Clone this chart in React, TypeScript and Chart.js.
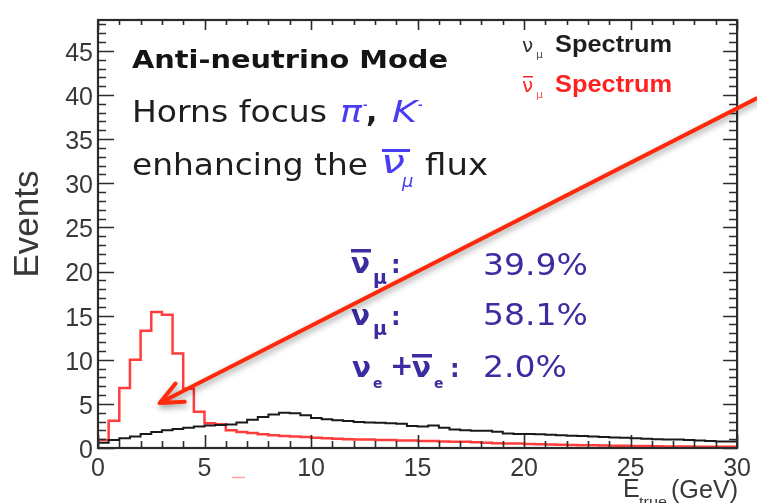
import React, { useEffect, useRef } from "react";
import { Chart, registerables } from "chart.js";

Chart.register(...registerables);

// Energy binning (GeV)
const BIN_WIDTH = 0.5;
const E_MAX = 30;

// Events per 0.5 GeV bin, 0–30 GeV
const NUMU_EVENTS = [
  0.2, 0.6, 0.9, 1.1, 1.3, 1.6, 1.8, 2.0, 2.15, 2.3,
  2.45, 2.55, 2.6, 2.65, 2.9, 3.2, 3.5, 3.8, 4.0, 3.95,
  3.7, 3.4, 3.25, 3.15, 3.05, 2.95, 2.9, 2.85, 2.8, 2.75,
  2.5, 2.45, 2.55, 2.3, 2.1, 2.0, 1.95, 1.95, 1.85, 1.65,
  1.6, 1.6, 1.55, 1.5, 1.45, 1.4, 1.35, 1.3, 1.25, 1.2,
  1.15, 1.1, 1.05, 1.0, 0.95, 0.95, 0.9, 0.85, 0.8, 0.75,
];

const NUMUBAR_EVENTS = [
  0, 0.9, 3.1, 6.8, 10.0, 13.3, 15.4, 15.1, 10.7, 6.7,
  4.1, 2.8, 2.7, 2.0, 1.8, 1.7, 1.55, 1.45, 1.35, 1.3,
  1.25, 1.15, 1.1, 1.05, 1.0, 0.95, 0.95, 0.9, 0.9, 0.85,
  0.85, 0.8, 0.78, 0.75, 0.72, 0.7, 0.65, 0.6, 0.55, 0.52,
  0.5, 0.45, 0.42, 0.4, 0.37, 0.35, 0.32, 0.3, 0.28, 0.26,
  0.25, 0.23, 0.22, 0.2, 0.18, 0.17, 0.16, 0.15, 0.14, 0.13,
];

const X_TICKS = [0, 5, 10, 15, 20, 25, 30];
const Y_TICKS = [0, 5, 10, 15, 20, 25, 30, 35, 40, 45];
const Y_MAX = 48.5;

const FRACTION_NUMUBAR = "39.9%";
const FRACTION_NUMU = "58.1%";
const FRACTION_NUE = "2.0%";

// Arrow pointing at the anti-neutrino peak, in axis units
const ARROW_FROM = { x: 30.9, y: 39.6 };
const ARROW_TO = { x: 2.9, y: 5.1 };

const SANS = '"Liberation Sans", Arial, sans-serif';
const GEO = '"DejaVu Sans", sans-serif';
const GREEK = '"DejaVu Sans", sans-serif';
const AXIS_TEXT = "#383838";
const BRIGHT_BLUE = "#4a3cf2";
const BLOCK_BLUE = "#3b2da0";

function histPoints(values: number[]) {
  const pts = values.map((v, i) => ({ x: i * BIN_WIDTH, y: v }));
  pts.push({ x: E_MAX, y: values[values.length - 1] });
  return pts;
}

function txt(
  ctx: CanvasRenderingContext2D,
  s: string,
  x: number,
  y: number,
  font: string,
  color: string,
  width?: number
) {
  ctx.save();
  ctx.font = font;
  ctx.fillStyle = color;
  ctx.textAlign = "left";
  ctx.textBaseline = "alphabetic";
  const w = ctx.measureText(s).width;
  const sx = width ? width / w : 1;
  ctx.translate(x, y);
  ctx.scale(sx, 1);
  ctx.fillText(s, 0, 0);
  ctx.restore();
}

function bar(ctx: CanvasRenderingContext2D, x: number, y: number, w: number, h: number, color: string) {
  ctx.save();
  ctx.fillStyle = color;
  ctx.fillRect(x, y, w, h);
  ctx.restore();
}

const frameAndLabels = {
  id: "frameAndLabels",
  afterDatasetsDraw(chart: any) {
    const { ctx, chartArea: a } = chart;
    const xs = chart.scales.x;
    const ys = chart.scales.y;
    ctx.save();
    ctx.strokeStyle = "#2b2b2b";
    ctx.lineWidth = 1.6;
    ctx.beginPath();
    for (let v = 0; v <= E_MAX; v += 1) {
      const px = Math.round(xs.getPixelForValue(v)) + 0.5;
      const major = v % 5 === 0;
      ctx.moveTo(px, a.bottom);
      ctx.lineTo(px, a.bottom - (major ? 13 : 7));
      ctx.moveTo(px, a.top);
      ctx.lineTo(px, a.top + (major ? 10 : 5));
    }
    for (let v = 0; v <= Math.floor(Y_MAX); v += 1) {
      const py = Math.round(ys.getPixelForValue(v)) + 0.5;
      const major = v % 5 === 0;
      ctx.moveTo(a.left, py);
      ctx.lineTo(a.left + (major ? 16 : 8), py);
      ctx.moveTo(a.right, py);
      ctx.lineTo(a.right - (major ? 14 : 8), py);
    }
    ctx.stroke();
    ctx.lineWidth = 2.2;
    ctx.strokeRect(a.left, a.top, a.right - a.left, a.bottom - a.top);
    ctx.restore();
  },
  afterDraw(chart: any) {
    const { ctx } = chart;
    const xs = chart.scales.x;
    const ys = chart.scales.y;

    // Axis titles
    ctx.save();
    ctx.translate(38, 224);
    ctx.rotate(-Math.PI / 2);
    ctx.font = `35px ${SANS}`;
    ctx.fillStyle = AXIS_TEXT;
    ctx.textAlign = "center";
    ctx.fillText("Events", 0, 0);
    ctx.restore();

    txt(ctx, "E", 623, 497, `25px ${SANS}`, AXIS_TEXT);
    txt(ctx, "true", 639, 506, `12px ${SANS}`, AXIS_TEXT, 28);
    txt(ctx, "(GeV)", 671, 498, `25px ${SANS}`, AXIS_TEXT, 67);

    // Beam mode description
    txt(ctx, "Anti-neutrino Mode", 132, 68, `bold 24px ${GEO}`, "#141414", 316);
    txt(ctx, "Horns focus", 132, 122, `30px ${GEO}`, "#1e1e1e", 195);
    txt(ctx, "π", 340, 122, `italic 30px ${GREEK}`, BRIGHT_BLUE, 22);
    txt(ctx, "-", 363, 108, `bold 11px ${GEO}`, BRIGHT_BLUE);
    txt(ctx, ",", 366, 122, `bold 30px ${GEO}`, "#1e1e1e");
    txt(ctx, "K", 392, 122, `italic 30px ${GEO}`, BRIGHT_BLUE, 25);
    txt(ctx, "-", 418, 108, `bold 11px ${GEO}`, BRIGHT_BLUE);
    txt(ctx, "enhancing the", 132, 175, `30px ${GEO}`, "#1e1e1e", 236);
    txt(ctx, "ν", 381, 173, `italic 32px ${GREEK}`, BRIGHT_BLUE, 24);
    bar(ctx, 382, 149, 28, 3, BRIGHT_BLUE);
    txt(ctx, "μ", 402, 187, `italic 18px ${GREEK}`, BRIGHT_BLUE);
    txt(ctx, "flux", 425, 175, `30px ${GEO}`, "#1e1e1e", 63);

    // Legend
    txt(ctx, "ν", 522, 52, `20px ${GREEK}`, "#333333");
    txt(ctx, "μ", 536, 58, `11px ${GREEK}`, "#555555");
    txt(ctx, "Spectrum", 555, 52, `bold 23px ${SANS}`, "#1e1e1e", 117);
    txt(ctx, "ν", 522, 92, `20px ${GREEK}`, "#ff2a2a");
    bar(ctx, 523, 76, 10, 1.5, "#ff2a2a");
    txt(ctx, "μ", 536, 98, `11px ${GREEK}`, "#ff5a5a");
    txt(ctx, "Spectrum", 555, 92, `bold 23px ${SANS}`, "#ff2020", 117);

    // Flavour composition
    txt(ctx, "ν", 351, 273, `bold 29px ${GREEK}`, BLOCK_BLUE, 19);
    bar(ctx, 351, 249, 20, 3.5, BLOCK_BLUE);
    txt(ctx, "μ", 373, 284, `bold 19px ${GREEK}`, BLOCK_BLUE);
    txt(ctx, ":", 391, 273, `bold 24px ${GEO}`, BLOCK_BLUE);
    txt(ctx, FRACTION_NUMUBAR, 483, 275, `31px ${GEO}`, BLOCK_BLUE, 105);

    txt(ctx, "ν", 351, 325, `bold 29px ${GREEK}`, BLOCK_BLUE, 19);
    txt(ctx, "μ", 373, 335, `bold 19px ${GREEK}`, BLOCK_BLUE);
    txt(ctx, ":", 391, 325, `bold 24px ${GEO}`, BLOCK_BLUE);
    txt(ctx, FRACTION_NUMU, 483, 325, `31px ${GEO}`, BLOCK_BLUE, 105);

    txt(ctx, "ν", 352, 377, `bold 29px ${GREEK}`, BLOCK_BLUE, 19);
    txt(ctx, "e", 373, 388, `bold 14px ${GEO}`, BLOCK_BLUE);
    txt(ctx, "+", 390, 375, `bold 28px ${GEO}`, BLOCK_BLUE);
    txt(ctx, "ν", 412, 377, `bold 29px ${GREEK}`, BLOCK_BLUE, 19);
    bar(ctx, 412, 354, 20, 3.5, BLOCK_BLUE);
    txt(ctx, "e", 434, 388, `bold 14px ${GEO}`, BLOCK_BLUE);
    txt(ctx, ":", 450, 377, `bold 24px ${GEO}`, BLOCK_BLUE);
    txt(ctx, FRACTION_NUE, 483, 377, `31px ${GEO}`, BLOCK_BLUE, 84);

    // Small stray mark under the axis
    ctx.save();
    ctx.strokeStyle = "rgba(255,90,90,0.55)";
    ctx.lineWidth = 1.5;
    ctx.beginPath();
    ctx.moveTo(232, 477.5);
    ctx.lineTo(245, 477.5);
    ctx.stroke();
    ctx.restore();

    // Arrow
    const from = { x: xs.getPixelForValue(ARROW_FROM.x), y: ys.getPixelForValue(ARROW_FROM.y) };
    const tip = { x: xs.getPixelForValue(ARROW_TO.x), y: ys.getPixelForValue(ARROW_TO.y) };
    const ang = Math.atan2(from.y - tip.y, from.x - tip.x);
    const L = 25;
    const spread = 0.42;
    ctx.save();
    ctx.shadowColor = "rgba(0,0,0,0.4)";
    ctx.shadowBlur = 6;
    ctx.shadowOffsetX = 1;
    ctx.shadowOffsetY = 3;
    ctx.strokeStyle = "#ff2a0c";
    ctx.lineWidth = 4;
    ctx.lineCap = "round";
    ctx.lineJoin = "round";
    ctx.beginPath();
    ctx.moveTo(from.x, from.y);
    ctx.lineTo(tip.x, tip.y);
    ctx.moveTo(tip.x + L * Math.cos(ang - spread), tip.y + L * Math.sin(ang - spread));
    ctx.lineTo(tip.x, tip.y);
    ctx.lineTo(tip.x + L * Math.cos(ang + spread), tip.y + L * Math.sin(ang + spread));
    ctx.stroke();
    ctx.restore();
  },
};

export default function App() {
  const canvasRef = useRef<HTMLCanvasElement>(null);

  useEffect(() => {
    document.body.style.margin = "0";
    const canvas = canvasRef.current;
    if (!canvas) return;
    const chart = new Chart(canvas, {
      type: "line",
      data: {
        datasets: [
          {
            label: "numu",
            data: histPoints(NUMU_EVENTS),
            borderColor: "#1a1a1a",
            borderWidth: 2,
            stepped: "after",
            pointRadius: 0,
            fill: false,
          },
          {
            label: "numubar",
            data: histPoints(NUMUBAR_EVENTS),
            borderColor: "rgba(255,45,45,0.92)",
            borderWidth: 2.5,
            stepped: "after",
            pointRadius: 0,
            fill: false,
          },
        ],
      },
      options: {
        responsive: false,
        animation: false,
        devicePixelRatio: 1,
        layout: { padding: { left: 0, top: 14, right: 17, bottom: 0 } },
        plugins: { legend: { display: false }, tooltip: { enabled: false } },
        scales: {
          x: {
            type: "linear",
            min: 0,
            max: E_MAX,
            grid: { display: false, drawTicks: false },
            border: { display: false },
            afterBuildTicks: (s: any) => {
              s.ticks = X_TICKS.map((v) => ({ value: v }));
            },
            ticks: {
              padding: 6,
              color: AXIS_TEXT,
              font: { family: SANS, size: 25 },
              maxRotation: 0,
              autoSkip: false,
            },
            afterFit: (s: any) => {
              s.height = 55;
            },
          },
          y: {
            type: "linear",
            min: 0,
            max: Y_MAX,
            grid: { display: false, drawTicks: false },
            border: { display: false },
            afterBuildTicks: (s: any) => {
              s.ticks = Y_TICKS.map((v) => ({ value: v }));
            },
            ticks: {
              padding: 5,
              labelOffset: 3,
              color: AXIS_TEXT,
              font: { family: SANS, size: 25 },
              autoSkip: false,
            },
            afterFit: (s: any) => {
              s.width = 98;
            },
          },
        },
      },
      plugins: [frameAndLabels],
    });
    return () => chart.destroy();
  }, []);

  return (
    <div style={{ width: 757, height: 503, background: "#ffffff" }}>
      <canvas ref={canvasRef} width={757} height={503} style={{ display: "block" }} />
    </div>
  );
}
